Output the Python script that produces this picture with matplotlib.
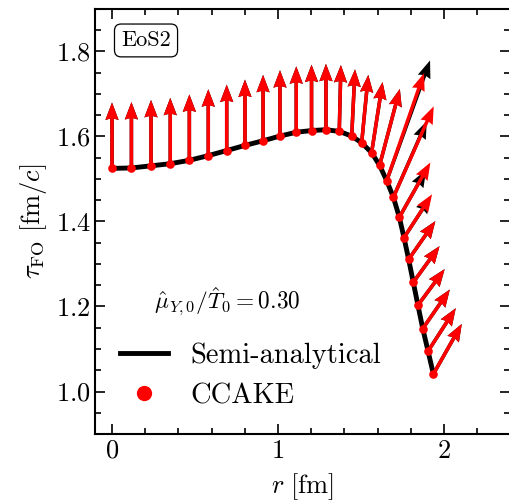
import matplotlib
matplotlib.use("Agg")
import matplotlib.pyplot as plt
from matplotlib.ticker import MultipleLocator
from matplotlib.lines import Line2D

plt.rcParams['font.family'] = 'serif'
plt.rcParams['font.serif'] = ['cmr10', 'DejaVu Serif']
plt.rcParams['mathtext.fontset'] = 'cm'
plt.rcParams['axes.unicode_minus'] = False
plt.rcParams['axes.formatter.use_mathtext'] = True

# CCAKE freeze-out points
r_pts = [0.000, 0.117, 0.235, 0.351, 0.466, 0.580, 0.691, 0.801, 0.910, 1.012,
         1.110, 1.202, 1.289, 1.369, 1.444, 1.504, 1.564, 1.612, 1.655, 1.695,
         1.731, 1.759, 1.787, 1.815, 1.843, 1.872, 1.904, 1.936]
tau_pts = [1.525, 1.526, 1.531, 1.536, 1.544, 1.555, 1.567, 1.579, 1.590, 1.601,
           1.610, 1.614, 1.616, 1.612, 1.601, 1.585, 1.562, 1.532, 1.496, 1.457,
           1.410, 1.362, 1.311, 1.257, 1.203, 1.148, 1.095, 1.041]
# CCAKE normal vectors (r, tau components)
u_ccake = [0.0, 0.0, 0.0, 0.0, 0.0, 0.0, 0.0, 0.0, 0.0, 0.0,
           0.0, 0.0, 0.0, 0.010, 0.020, 0.040, 0.066, 0.122, 0.225, 0.243,
           0.187, 0.169, 0.161, 0.158, 0.161, 0.163, 0.167, 0.171]
v_ccake = [0.155, 0.155, 0.155, 0.155, 0.155, 0.156, 0.155, 0.155, 0.155, 0.155,
           0.155, 0.155, 0.155, 0.156, 0.157, 0.160, 0.166, 0.180, 0.253, 0.214,
           0.129, 0.102, 0.090, 0.085, 0.085, 0.092, 0.101, 0.118]
# Semi-analytical normal vectors
u_semi = [0.0, 0.0, 0.0, 0.0, 0.0, 0.0, 0.0, 0.0, 0.0, 0.0,
          0.0, 0.0, 0.0, 0.010, 0.020, 0.040, 0.066, 0.122, 0.261, 0.201,
          0.162, 0.164, 0.161, 0.158, 0.161, 0.163, 0.167, 0.171]
v_semi = [0.155, 0.155, 0.155, 0.155, 0.155, 0.156, 0.155, 0.155, 0.155, 0.155,
          0.155, 0.155, 0.155, 0.156, 0.157, 0.160, 0.166, 0.180, 0.283, 0.179,
          0.112, 0.098, 0.090, 0.085, 0.085, 0.092, 0.101, 0.118]

W, H = 509, 504
fig = plt.figure(figsize=(W/100, H/100), dpi=100)
ax = fig.add_axes([95.4/W, 70/H, 415/W, 425/H])

ax.plot(r_pts, tau_pts, color='black', lw=3.5, zorder=2)
qkw = dict(angles='xy', scale_units='xy', scale=1, units='dots', width=3.5,
           headwidth=3.8, headlength=5.0, headaxislength=4.6)
ax.quiver(r_pts, tau_pts, u_semi, v_semi, color='black', zorder=3, **qkw)
ax.quiver(r_pts, tau_pts, u_ccake, v_ccake, color='red', zorder=4, **qkw)
ax.plot(r_pts, tau_pts, 'o', color='red', ms=6.2, mec='none', zorder=5)

ax.set_xlim(-0.1, 2.4)
ax.set_ylim(0.9, 1.9)
ax.xaxis.set_major_locator(MultipleLocator(1))
ax.xaxis.set_minor_locator(MultipleLocator(0.2))
ax.yaxis.set_major_locator(MultipleLocator(0.2))
ax.yaxis.set_minor_locator(MultipleLocator(0.05))
ax.tick_params(which='both', direction='in', top=True, right=True, labelsize=19, width=1.2)
ax.tick_params(which='major', length=7)
ax.tick_params(which='minor', length=4)
for s in ax.spines.values():
    s.set_linewidth(1.5)

ax.set_xlabel(r'$r\ [{\rm fm}]$', fontsize=19, labelpad=6)
ax.set_ylabel(r'$\tau_{\rm FO}\ [{\rm fm}/c]$', fontsize=19, labelpad=5)

ax.text(0.14, 0.312, r'$\hat{\mu}_{Y,0}/\hat{T}_0 = 0.30$', transform=ax.transAxes,
        fontsize=16.8, va='center', ha='left')
ax.text(0.122, 0.926, 'EoS2', transform=ax.transAxes, fontsize=16,
        va='center', ha='center',
        bbox=dict(boxstyle='round,pad=0.3', fc='white', ec='black', lw=0.9))

handles = [Line2D([], [], color='black', lw=3.5),
           Line2D([], [], marker='o', ls='none', color='red', ms=11, mec='none')]
ax.legend(handles, ['Semi-analytical', 'CCAKE'], loc='lower left',
          bbox_to_anchor=((120 - 95.4) / 415, 0.058), frameon=False, fontsize=20.5,
          borderpad=0, borderaxespad=0,
          handlelength=1.7, handletextpad=0.77, labelspacing=0.5)

fig.savefig('out.png', dpi=100)
